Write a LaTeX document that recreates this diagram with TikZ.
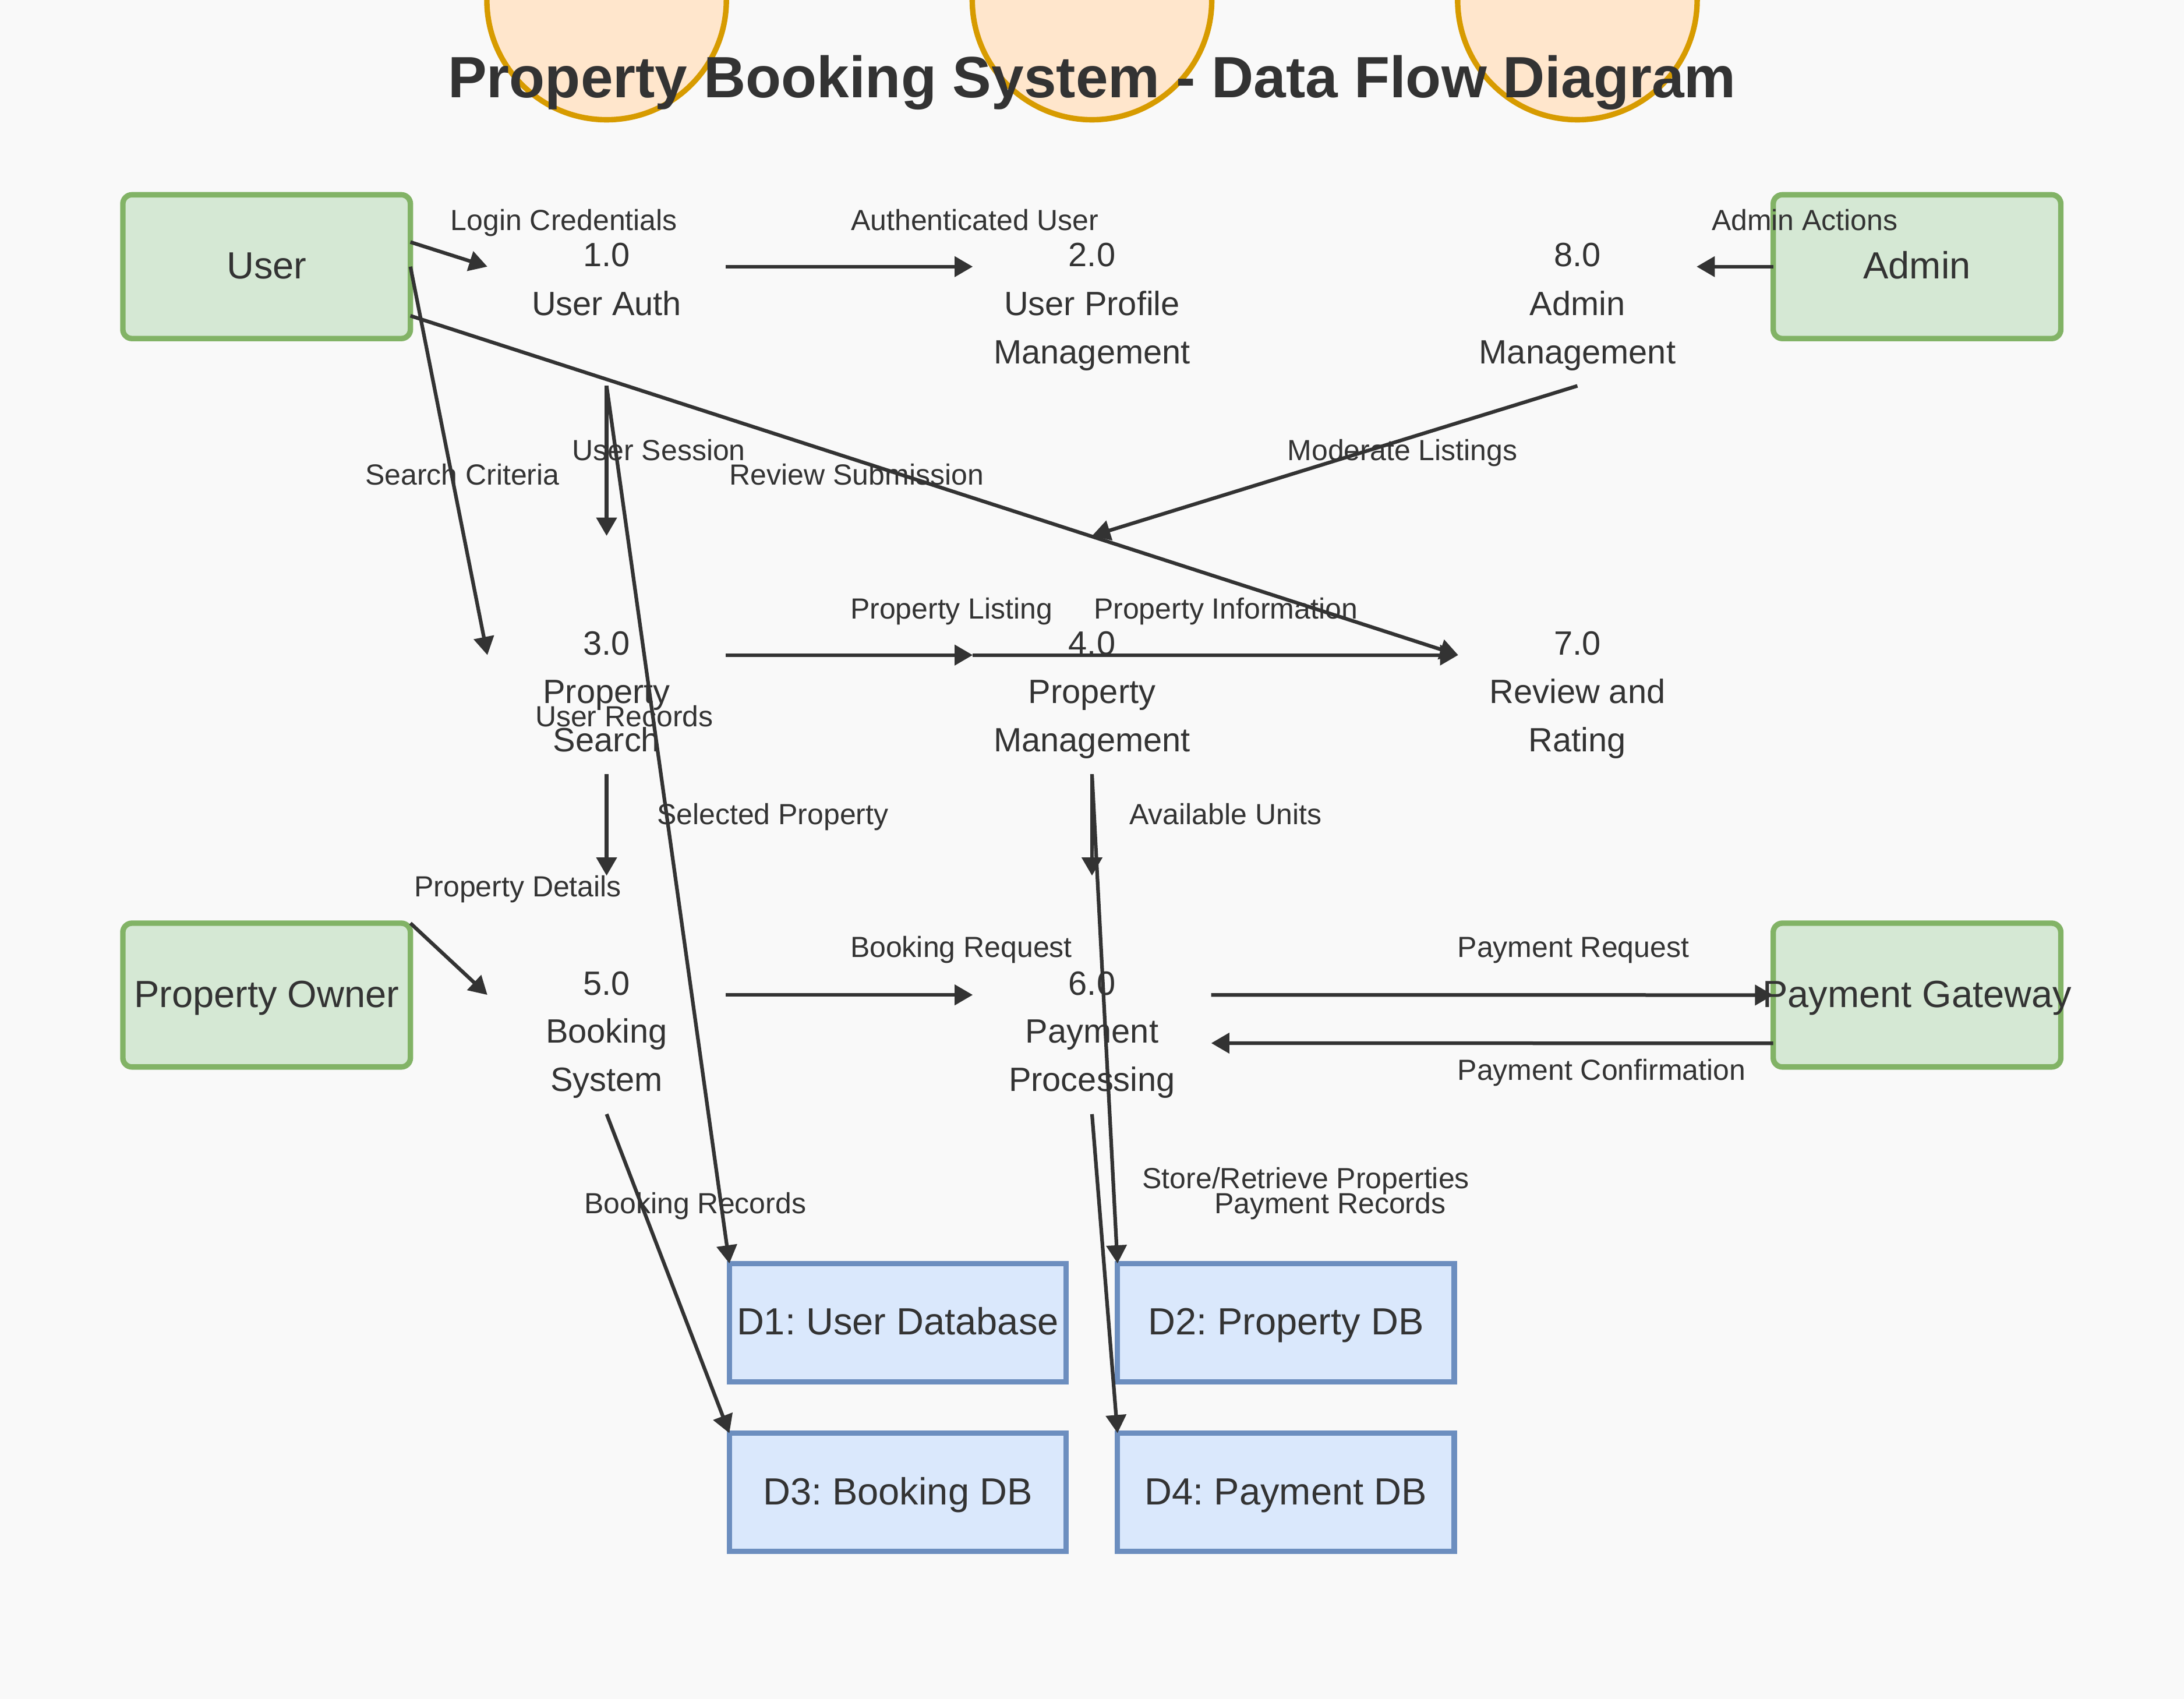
\documentclass[tikz,border=0pt]{standalone}
\usepackage{fontspec}
\setmainfont{Liberation Sans}
\usetikzlibrary{arrows.meta,calc}
\definecolor{bg}{HTML}{F9F9F9}
\definecolor{ink}{HTML}{333333}
\definecolor{entfill}{HTML}{D5E8D4}
\definecolor{entdraw}{HTML}{82B366}
\definecolor{stofill}{HTML}{DAE8FC}
\definecolor{stodraw}{HTML}{6C8EBF}
\definecolor{prcfill}{HTML}{FFE6CC}
\definecolor{prcdraw}{HTML}{D79B00}
\frenchspacing
\begin{document}
\begin{tikzpicture}[x=1pt,y=-1pt,
  entity/.style={rectangle, rounded corners=5pt, draw=entdraw, fill=entfill, line width=3pt, minimum width=158pt, minimum height=79pt, inner sep=0pt, outer sep=0pt},
  enttext/.style={text=ink, font=\fontsize{20.8}{24}\selectfont, text height=13.4pt, text depth=0pt, inner sep=0pt},
  store/.style={rectangle, draw=stodraw, fill=stofill, line width=3pt, minimum width=185pt, minimum height=65pt, inner sep=0pt, outer sep=0pt, text=ink, font=\fontsize{20.8}{24}\selectfont, text height=13.4pt, text depth=0pt},
  proc/.style={circle, minimum size=131pt, inner sep=0pt, outer sep=0pt, draw=none},
  ptext/.style={text=ink, font=\fontsize{18.5}{22}\selectfont, anchor=base, inner sep=0pt},
  flowlabel/.style={text=ink, font=\fontsize{16}{19}\selectfont, anchor=base west, inner sep=0pt},
  flow/.style={draw=ink, line width=2pt, -{Triangle[length=10pt,width=11pt]}},
  deco/.style={circle, draw=prcdraw, fill=prcfill, line width=3pt, minimum size=131.6pt, inner sep=0pt, outer sep=0pt}
]
\fill[bg] (0,0) rectangle (1200,933.4);
\useasboundingbox (0,0) rectangle (1200,933.4);
\clip (0,0) rectangle (1200,933.4);

% decorative process circles (drawn at the top)
\node[deco] (c1) at (333.3,0) {};
\node[deco] (c2) at (600,0) {};
\node[deco] (c3) at (866.7,0) {};

% title
\node[anchor=base, text=ink, inner sep=0pt, font=\bfseries\fontsize{32}{38}\selectfont] (title) at (600,53.5) {Property Booking System - Data Flow Diagram};

% processes (invisible anchors)
\node[proc] (p1) at (333.3,146.5) {};
\node[proc] (p2) at (600,146.5) {};
\node[proc] (p8) at (866.7,146.5) {};
\node[proc] (p3) at (333.3,359.9) {};
\node[proc] (p4) at (600,359.9) {};
\node[proc] (p7) at (866.7,359.9) {};
\node[proc] (p5) at (333.3,546.6) {};
\node[proc] (p6) at (600,546.6) {};

% external entities
\node[entity] (user) at (146.5,146.5) {};
\node[entity] (admin) at (1053.3,146.5) {};
\node[entity] (owner) at (146.5,546.7) {};
\node[entity] (gateway) at (1053.3,546.7) {};
\node[enttext] (usert) at (user) {User};
\node[enttext] (admint) at (admin) {Admin};
\node[enttext] (ownert) at (owner) {Property Owner};
\node[enttext] (gatewayt) at (gateway) {Payment Gateway};

% data stores
\node[store] (d1) at (493.25,726.65) {D1: User Database};
\node[store] (d2) at (706.5,726.65) {D2: Property DB};
\node[store] (d3) at (493.25,819.9) {D3: Booking DB};
\node[store] (d4) at (706.5,819.9) {D4: Payment DB};

% flows
\draw[flow] ($(user.east)+(0,-13.5)$) -- (p1.west);
\draw[flow] (p1.east) -- (p2.west);
\draw[flow] (admin.west) -- (p8.east);
\draw[flow] (p1.south) -- (p3.north);
\draw[flow] (user.east) -- (p3.west);
\draw[flow] ($(user.east)+(0,27)$) -- (p7.west);
\draw[flow] (p8.south) -- (p4.north);
\draw[flow] (p3.east) -- (p4.west);
\draw[flow] (p4.west) -- (p7.west);
\draw[flow] (p3.south) -- (p5.north);
\draw[flow] (p4.south) -- (p6.north);
\draw[flow] (owner.north east) -- (p5.west);
\draw[flow] (p5.east) -- (p6.west);
\draw[flow] (p6.east) -- (gateway.west);
\draw[flow] ($(gateway.west)+(0,26.5)$) -- ($(p6.east)+(0,26.5)$);
\draw[flow] (p1.south) -- (d1.north west);
\draw[flow] (p4.south) -- (d2.north west);
\draw[flow] (p5.south) -- (d3.north west);
\draw[flow] (p6.south) -- (d4.north west);

% process texts
\node[ptext] (p1n) at (p1) {1.0};
\node[ptext] (p1a) at ($(p1)+(0,26.8)$) {User Auth};
\node[ptext] (p2n) at (p2) {2.0};
\node[ptext] (p2a) at ($(p2)+(0,26.8)$) {User Profile};
\node[ptext] (p2b) at ($(p2)+(0,53.4)$) {Management};
\node[ptext] (p8n) at (p8) {8.0};
\node[ptext] (p8a) at ($(p8)+(0,26.8)$) {Admin};
\node[ptext] (p8b) at ($(p8)+(0,53.4)$) {Management};
\node[ptext] (p3n) at (p3) {3.0};
\node[ptext] (p3a) at ($(p3)+(0,26.5)$) {Property};
\node[ptext] (p3b) at ($(p3)+(0,53)$) {Search};
\node[ptext] (p4n) at (p4) {4.0};
\node[ptext] (p4a) at ($(p4)+(0,26.5)$) {Property};
\node[ptext] (p4b) at ($(p4)+(0,53)$) {Management};
\node[ptext] (p7n) at (p7) {7.0};
\node[ptext] (p7a) at ($(p7)+(0,26.5)$) {Review and};
\node[ptext] (p7b) at ($(p7)+(0,53)$) {Rating};
\node[ptext] (p5n) at (p5) {5.0};
\node[ptext] (p5a) at ($(p5)+(0,26.5)$) {Booking};
\node[ptext] (p5b) at ($(p5)+(0,53)$) {System};
\node[ptext] (p6n) at (p6) {6.0};
\node[ptext] (p6a) at ($(p6)+(0,26.5)$) {Payment};
\node[ptext] (p6b) at ($(p6)+(0,53)$) {Processing};

% flow labels
\node[flowlabel] (l1) at (247.4,126.5) {Login Credentials};
\node[flowlabel] (l2) at (467.4,126.5) {Authenticated User};
\node[flowlabel] (l3) at (940.3,126.5) {Admin Actions};
\node[flowlabel] (l4) at (314.2,253) {User Session};
\node[flowlabel] (l5) at (200.5,266.3) {Search Criteria};
\node[flowlabel] (l6) at (400.7,266.3) {Review Submission};
\node[flowlabel] (l7) at (707.2,253) {Moderate Listings};
\node[flowlabel] (l8) at (467,340.1) {Property Listing};
\node[flowlabel] (l9) at (600.8,340.1) {Property Information};
\node[flowlabel] (l10) at (293.9,399.1) {User Records};
\node[flowlabel] (l11) at (360.8,453) {Selected Property};
\node[flowlabel] (l12) at (620.4,453) {Available Units};
\node[flowlabel] (l13) at (227.4,492.7) {Property Details};
\node[flowlabel] (l14) at (467,526) {Booking Request};
\node[flowlabel] (l15) at (800.7,526) {Payment Request};
\node[flowlabel] (l16) at (800.7,593.3) {Payment Confirmation};
\node[flowlabel] (l17) at (627.5,653) {Store/Retrieve Properties};
\node[flowlabel] (l18) at (667,666.7) {Payment Records};
\node[flowlabel] (l19) at (320.9,666.7) {Booking Records};
\end{tikzpicture}
\end{document}
